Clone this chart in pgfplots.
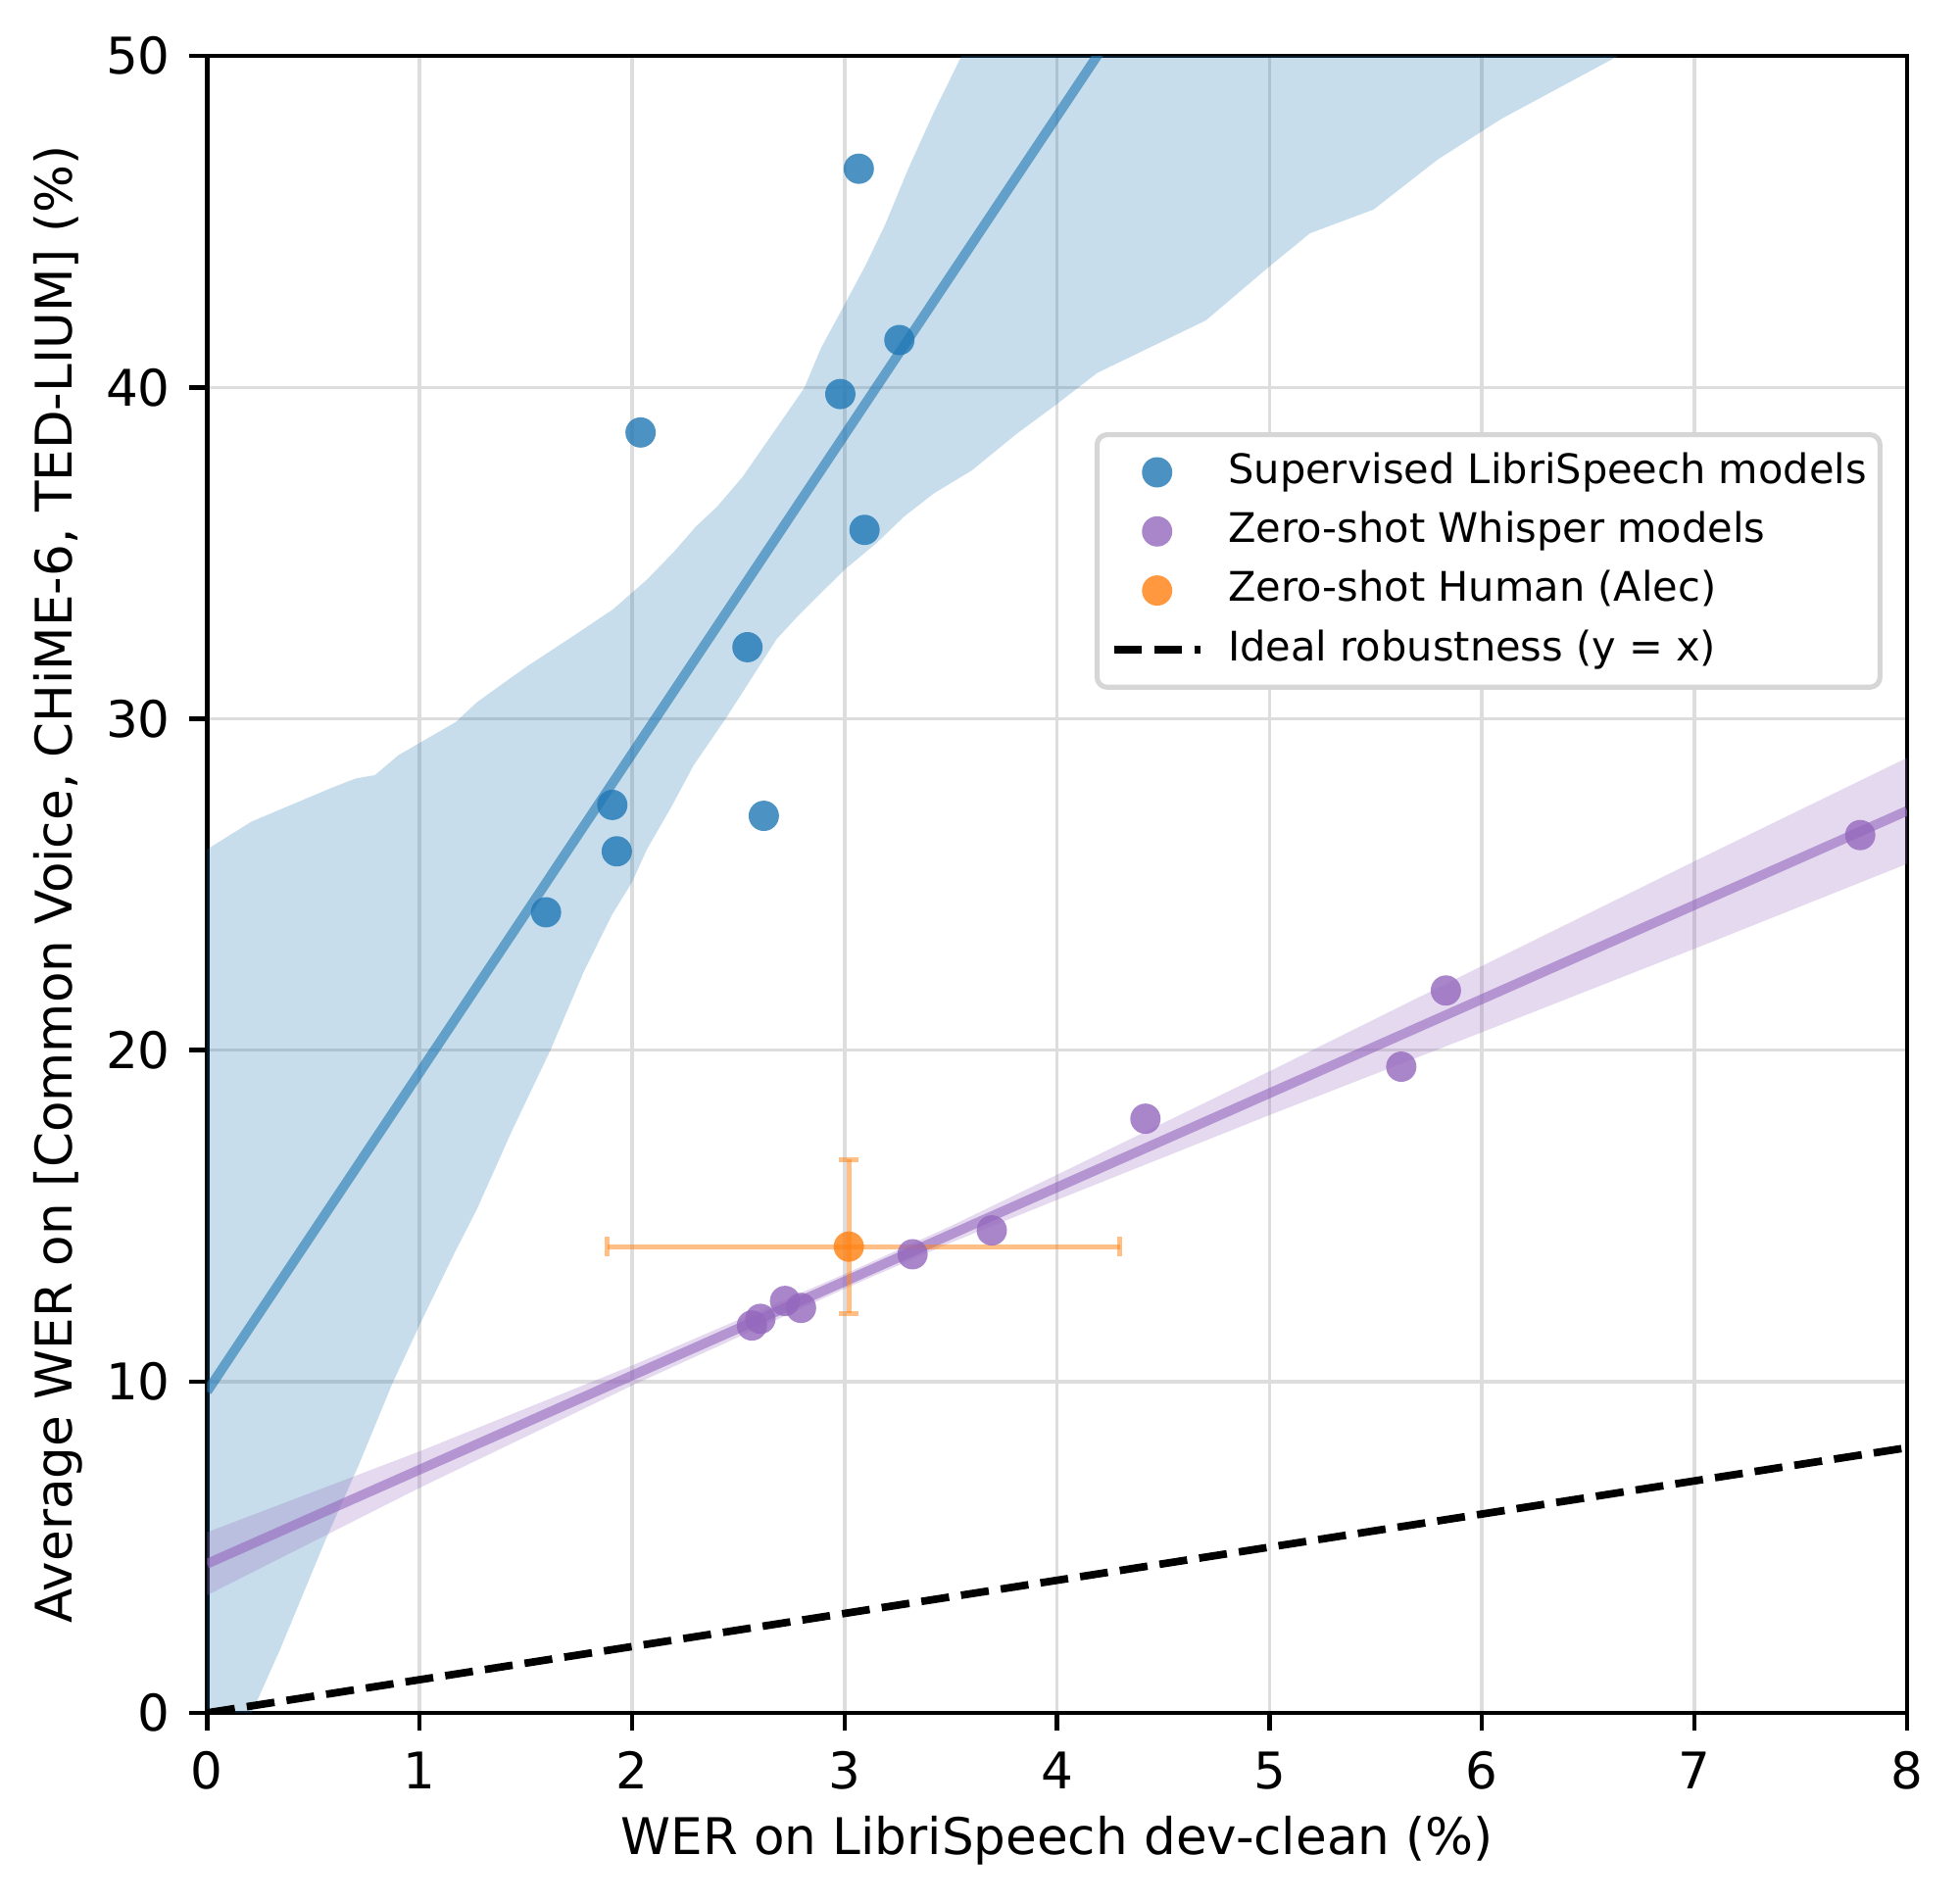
\documentclass[border=0pt]{standalone}
\usepackage{fontspec}
\setmainfont{DejaVu Sans}
\usepackage{pgfplots}
\pgfplotsset{compat=1.18}

\definecolor{tabblue}{HTML}{1F77B4}
\definecolor{tabpurple}{HTML}{9467BD}
\definecolor{taborange}{HTML}{FF7F0E}
\definecolor{gridgray}{HTML}{DDDDDD}
\definecolor{legframe}{HTML}{D6D6D6}

\begin{document}
\begin{tikzpicture}
\begin{axis}[
    scale only axis,
    width=336.5pt, height=328pt,
    xmin=0, xmax=8, ymin=0, ymax=50,
    xtick={0,1,...,8}, ytick={0,10,...,50},
    xtick pos=bottom, ytick pos=left,
    tick align=outside,
    major tick length=3.5pt,
    tick style={black, line width=0.85pt},
    axis line style={black, line width=0.85pt},
    grid=major,
    major grid style={gridgray, line width=0.7pt},
    font=\fontsize{10}{12}\selectfont,
    /pgf/number format/assume math mode=true,
    xticklabel style={anchor=north, inner sep=0pt, yshift=-4pt},
    yticklabel style={anchor=east, inner sep=0pt, xshift=-3.6pt},
    xlabel={WER on LibriSpeech dev-clean (\%)},
    ylabel={Average WER on [Common Voice, CHiME-6, TED-LIUM] (\%)},
    every axis x label/.style={at={(axis description cs:0.5,-0.0774)}, anchor=center},
    every axis y label/.style={at={(axis description cs:-0.0874,0.5)}, anchor=center, rotate=90},
    legend style={
        at={(axis description cs:0.9856,0.773)}, anchor=north east,
        draw=legframe, line width=1pt, rounded corners=2pt,
        font=\fontsize{8.06}{9.6}\selectfont,
        inner xsep=2.6pt, inner ysep=3.5pt,
        nodes={inner sep=0pt, text height=6.1pt, text depth=1.8pt},
        row sep=3.8pt,
        cells={anchor=west},
    },
    /tikz/every odd column/.append style={column sep=4.8pt},
]

% confidence bands
\addplot[forget plot, fill=tabblue, fill opacity=0.25, draw=none] coordinates {
    (0,26.06) (0.21,26.9) (0.58,27.9) (0.70,28.2) (0.79,28.3) (0.90,28.9)
    (1.17,29.9) (1.27,30.5) (1.40,31.1) (1.51,31.6) (1.70,32.4) (1.91,33.3)
    (2.07,34.2) (2.20,35.06) (2.30,35.8) (2.40,36.4) (2.52,37.3) (2.70,38.96)
    (2.81,39.98) (2.89,41.2) (3.00,42.5) (3.10,43.7) (3.19,44.9) (3.30,46.6)
    (3.42,48.3) (3.55,50) (3.60,51) (6.80,51)
    (6.64,50) (6.09,48.1) (5.79,46.87) (5.49,45.37) (5.19,44.65) (4.99,43.6)
    (4.70,42.02) (4.19,40.44) (4.00,39.5) (3.81,38.6) (3.60,37.5) (3.42,36.8)
    (3.28,36.1) (3.15,35.3) (3.00,34.5) (2.89,33.8) (2.78,33.1) (2.68,32.4)
    (2.52,30.8) (2.44,30.0) (2.29,28.6) (2.19,27.4) (2.07,26.06) (2.00,25.07)
    (1.907,24.1) (1.775,22.4) (1.616,20.0) (1.43,17.5) (1.27,15.2) (1.166,13.9)
    (1.007,11.8) (0.874,9.97) (0.715,7.5) (0.556,5.2) (0.344,1.92) (0.21,0)
    (0.08,-3) (0,-3)
} -- cycle;
\addplot[forget plot, fill=tabpurple, fill opacity=0.25, draw=none] coordinates {
    (0,5.45) (1,7.89) (2,10.48) (3,13.24) (3.5,14.69) (4,16.24) (5,19.36)
    (6,22.54) (7,25.70) (8,28.82)
    (8,25.62) (7,23.06) (6,20.54) (5,18.04) (4,15.48) (3.5,14.19) (3,12.80)
    (2,9.88) (1,6.79) (0,3.55)
} -- cycle;

% regression lines
\addplot[forget plot, tabblue, opacity=0.6, line width=1.9pt] coordinates {(0,9.7) (4.5,53.0)};
\addplot[forget plot, tabpurple, opacity=0.6, line width=1.9pt] coordinates {(0,4.5) (8,27.22)};

% supervised models
\addplot[only marks, mark=*, mark size=3pt,
    mark options={fill=tabblue, fill opacity=0.8, draw opacity=0}] coordinates {
    (1.595,24.16) (1.907,27.40) (1.928,26.00) (2.04,38.64) (2.543,32.16)
    (2.62,27.07) (2.98,39.80) (3.067,46.60) (3.094,35.70) (3.258,41.43)
};
\addlegendentry{Supervised LibriSpeech models}

% whisper models
\addplot[only marks, mark=*, mark size=3pt,
    mark options={fill=tabpurple, fill opacity=0.8, draw opacity=0}] coordinates {
    (2.564,11.69) (2.604,11.89) (2.72,12.43) (2.795,12.22) (3.32,13.84)
    (3.693,14.56) (4.416,17.93) (5.62,19.50) (5.83,21.80) (7.78,26.49)
};
\addlegendentry{Zero-shot Whisper models}

% human
\addplot[only marks, mark=*, mark size=3pt,
    mark options={fill=taborange, fill opacity=0.8, draw opacity=0},
    error bars/.cd, x dir=both, x explicit, y dir=both, y explicit,
    error bar style={taborange, opacity=0.5, line width=1pt},
    error mark options={taborange, opacity=0.5, line width=1pt, mark size=1.9pt, rotate=90}]
    coordinates {(3.02,14.07) += (1.275,2.63) -= (1.137,2.02)};
\addlegendentry{Zero-shot Human (Alec)}

\addplot[black, line width=1.5pt, dash pattern=on 5.55pt off 2.4pt] coordinates {(0,0) (8,8)};
\addlegendentry{Ideal robustness (y = x)}

\end{axis}
\pgfresetboundingbox
\useasboundingbox (-41pt,-37.8pt) rectangle (347pt,339.1pt);
\end{tikzpicture}
\end{document}
